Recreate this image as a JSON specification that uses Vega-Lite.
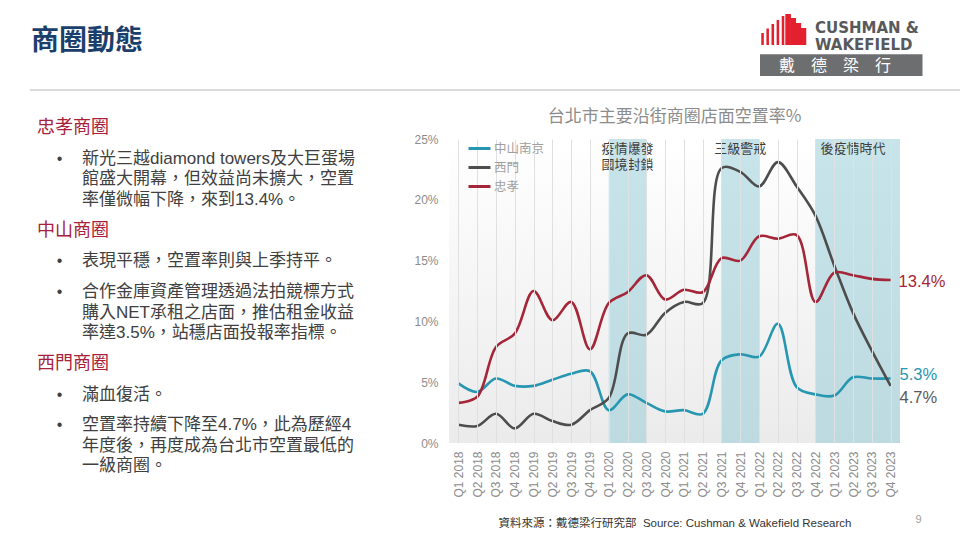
{
  "$schema": "https://vega.github.io/schema/vega-lite/v6.json",
  "padding": {"left": 28, "top": 10, "right": 0, "bottom": 0},
  "bounds": "flush",
  "spacing": 49,
  "config": {"font": "Noto Sans CJK TC", "view": {"stroke": null}},
  "datasets": {
    "vacancy": [
      {"quarter":"Q1 2018","series":"中山南京","value":0.049},{"quarter":"Q2 2018","series":"中山南京","value":0.042},{"quarter":"Q3 2018","series":"中山南京","value":0.053},{"quarter":"Q4 2018","series":"中山南京","value":0.047},
      {"quarter":"Q1 2019","series":"中山南京","value":0.047},{"quarter":"Q2 2019","series":"中山南京","value":0.052},{"quarter":"Q3 2019","series":"中山南京","value":0.057},{"quarter":"Q4 2019","series":"中山南京","value":0.059},
      {"quarter":"Q1 2020","series":"中山南京","value":0.027},{"quarter":"Q2 2020","series":"中山南京","value":0.040},{"quarter":"Q3 2020","series":"中山南京","value":0.033},{"quarter":"Q4 2020","series":"中山南京","value":0.026},
      {"quarter":"Q1 2021","series":"中山南京","value":0.027},{"quarter":"Q2 2021","series":"中山南京","value":0.024},{"quarter":"Q3 2021","series":"中山南京","value":0.068},{"quarter":"Q4 2021","series":"中山南京","value":0.073},
      {"quarter":"Q1 2022","series":"中山南京","value":0.071},{"quarter":"Q2 2022","series":"中山南京","value":0.098},{"quarter":"Q3 2022","series":"中山南京","value":0.046},{"quarter":"Q4 2022","series":"中山南京","value":0.040},
      {"quarter":"Q1 2023","series":"中山南京","value":0.039},{"quarter":"Q2 2023","series":"中山南京","value":0.054},{"quarter":"Q3 2023","series":"中山南京","value":0.053},{"quarter":"Q4 2023","series":"中山南京","value":0.053},
      {"quarter":"Q1 2018","series":"西門","value":0.015},{"quarter":"Q2 2018","series":"西門","value":0.014},{"quarter":"Q3 2018","series":"西門","value":0.024},{"quarter":"Q4 2018","series":"西門","value":0.012},
      {"quarter":"Q1 2019","series":"西門","value":0.024},{"quarter":"Q2 2019","series":"西門","value":0.018},{"quarter":"Q3 2019","series":"西門","value":0.015},{"quarter":"Q4 2019","series":"西門","value":0.027},
      {"quarter":"Q1 2020","series":"西門","value":0.037},{"quarter":"Q2 2020","series":"西門","value":0.090},{"quarter":"Q3 2020","series":"西門","value":0.089},{"quarter":"Q4 2020","series":"西門","value":0.107},
      {"quarter":"Q1 2021","series":"西門","value":0.116},{"quarter":"Q2 2021","series":"西門","value":0.115},{"quarter":"Q3 2021","series":"西門","value":0.226},{"quarter":"Q4 2021","series":"西門","value":0.223},
      {"quarter":"Q1 2022","series":"西門","value":0.211},{"quarter":"Q2 2022","series":"西門","value":0.231},{"quarter":"Q3 2022","series":"西門","value":0.211},{"quarter":"Q4 2022","series":"西門","value":0.187},
      {"quarter":"Q1 2023","series":"西門","value":0.146},{"quarter":"Q2 2023","series":"西門","value":0.107},{"quarter":"Q3 2023","series":"西門","value":0.076},{"quarter":"Q4 2023","series":"西門","value":0.047},
      {"quarter":"Q1 2018","series":"忠孝","value":0.033},{"quarter":"Q2 2018","series":"忠孝","value":0.038},{"quarter":"Q3 2018","series":"忠孝","value":0.079},{"quarter":"Q4 2018","series":"忠孝","value":0.090},
      {"quarter":"Q1 2019","series":"忠孝","value":0.125},{"quarter":"Q2 2019","series":"忠孝","value":0.101},{"quarter":"Q3 2019","series":"忠孝","value":0.116},{"quarter":"Q4 2019","series":"忠孝","value":0.077},
      {"quarter":"Q1 2020","series":"忠孝","value":0.115},{"quarter":"Q2 2020","series":"忠孝","value":0.124},{"quarter":"Q3 2020","series":"忠孝","value":0.138},{"quarter":"Q4 2020","series":"忠孝","value":0.118},
      {"quarter":"Q1 2021","series":"忠孝","value":0.126},{"quarter":"Q2 2021","series":"忠孝","value":0.124},{"quarter":"Q3 2021","series":"忠孝","value":0.152},{"quarter":"Q4 2021","series":"忠孝","value":0.150},
      {"quarter":"Q1 2022","series":"忠孝","value":0.170},{"quarter":"Q2 2022","series":"忠孝","value":0.168},{"quarter":"Q3 2022","series":"忠孝","value":0.171},{"quarter":"Q4 2022","series":"忠孝","value":0.116},
      {"quarter":"Q1 2023","series":"忠孝","value":0.140},{"quarter":"Q2 2023","series":"忠孝","value":0.138},{"quarter":"Q3 2023","series":"忠孝","value":0.135},{"quarter":"Q4 2023","series":"忠孝","value":0.134}
    ],
    "bands": [
      {"start":"Q1 2020","end":"Q3 2020","labelAt":"Q2 2020","label":"疫情爆發\n國境封鎖","ongoing":false},
      {"start":"Q3 2021","end":"Q1 2022","labelAt":"Q4 2021","label":"三級警戒","ongoing":false},
      {"start":"Q4 2022","end":"Q4 2023","labelAt":"Q2 2023","label":"後疫情時代","ongoing":true}
    ],
    "notes": [
      {"row":0,"kind":"head","text":"忠孝商圈"},
      {"row":3,"kind":"bullet","text":"新光三越diamond towers及大巨蛋場"},
      {"row":5,"kind":"cont","text":"館盛大開幕，但效益尚未擴大，空置"},
      {"row":7,"kind":"cont","text":"率僅微幅下降，來到13.4%。"},
      {"row":10,"kind":"head","text":"中山商圈"},
      {"row":13,"kind":"bullet","text":"表現平穩，空置率則與上季持平。"},
      {"row":16,"kind":"bullet","text":"合作金庫資產管理透過法拍競標方式"},
      {"row":18,"kind":"cont","text":"購入NET承租之店面，推估租金收益"},
      {"row":20,"kind":"cont","text":"率達3.5%，站穩店面投報率指標。"},
      {"row":23,"kind":"head","text":"西門商圈"},
      {"row":26,"kind":"bullet","text":"滿血復活。"},
      {"row":29,"kind":"bullet","text":"空置率持續下降至4.7%，此為歷經4"},
      {"row":31,"kind":"cont","text":"年度後，再度成為台北市空置最低的"},
      {"row":33,"kind":"cont","text":"一級商圈。"}
    ],
    "logo": [
      {"stripe":"1","top":23,"solid":false},{"stripe":"2","top":18.5,"solid":false},{"stripe":"3","top":14,"solid":false},
      {"stripe":"4","top":10,"solid":false},{"stripe":"5","top":6,"solid":false},{"stripe":"6","top":4,"solid":true},
      {"stripe":"7","top":8,"solid":true},{"stripe":"8","top":13,"solid":true},{"stripe":"9","top":18,"solid":true}
    ]
  },
  "vconcat": [
    {
      "width": 932,
      "height": 80,
      "resolve": {"scale": {"x": "independent"}},
      "layer": [
        {
          "data": {"values": [{}]},
          "layer": [
            {
              "mark": {"type": "rule", "color": "#dadada", "strokeWidth": 2},
              "encoding": {
                "x": {"datum": 2, "type": "quantitative", "scale": {"domain": [0, 932], "nice": false, "zero": false}, "axis": null},
                "x2": {"datum": 932},
                "y": {"datum": 80, "type": "quantitative", "scale": {"domain": [0, 80], "nice": false, "reverse": true}, "axis": null}
              }
            },
            {
              "mark": {"type": "text", "text": "商圈動態", "align": "left", "baseline": "middle", "fontSize": 28, "fontWeight": "bold", "color": "#1b3f6c"},
              "encoding": {"x": {"datum": 3, "type": "quantitative"}, "y": {"datum": 32, "type": "quantitative"}}
            },
            {
              "mark": {"type": "rect", "color": "#6d6e70"},
              "encoding": {"x": {"datum": 732, "type": "quantitative"}, "x2": {"datum": 894.5}, "y": {"datum": 44.3, "type": "quantitative"}, "y2": {"datum": 66}}
            },
            {
              "mark": {"type": "text", "text": "戴　德　梁　行", "align": "left", "baseline": "middle", "fontSize": 16, "color": "#ffffff"},
              "encoding": {"x": {"datum": 751, "type": "quantitative"}, "y": {"datum": 56, "type": "quantitative"}}
            },
            {
              "mark": {"type": "text", "text": "CUSHMAN &", "align": "left", "baseline": "middle", "fontSize": 15, "fontWeight": "bold", "font": "DejaVu Sans", "color": "#58595b"},
              "encoding": {"x": {"datum": 787, "type": "quantitative"}, "y": {"datum": 18, "type": "quantitative"}}
            },
            {
              "mark": {"type": "text", "text": "WAKEFIELD", "align": "left", "baseline": "middle", "fontSize": 15, "fontWeight": "bold", "font": "DejaVu Sans", "color": "#58595b"},
              "encoding": {"x": {"datum": 787, "type": "quantitative"}, "y": {"datum": 34.5, "type": "quantitative"}}
            }
          ]
        },
        {
          "data": {"name": "logo"},
          "layer": [
            {
              "transform": [{"filter": "!datum.solid"}],
              "mark": {"type": "bar", "color": "#e4202e", "width": {"band": 0.5}},
              "encoding": {
                "x": {"field": "stripe", "type": "ordinal", "scale": {"type": "band", "range": [732, 778], "paddingInner": 0, "paddingOuter": 0}, "axis": null},
                "y": {"field": "top", "type": "quantitative", "scale": {"domain": [0, 80], "nice": false, "reverse": true}, "axis": null},
                "y2": {"datum": 35}
              }
            },
            {
              "transform": [{"filter": "datum.solid"}],
              "mark": {"type": "bar", "color": "#e4202e", "width": {"band": 1.1}},
              "encoding": {
                "x": {"field": "stripe", "type": "ordinal"},
                "y": {"field": "top", "type": "quantitative"},
                "y2": {"datum": 35}
              }
            }
          ]
        }
      ]
    },
    {
      "bounds": "flush",
      "spacing": 0,
      "hconcat": [
        {
          "width": 421,
          "height": 304,
          "data": {"name": "notes"},
          "layer": [
            {
              "transform": [{"filter": "datum.kind === 'head'"}],
              "mark": {"type": "text", "align": "left", "baseline": "middle", "fontSize": 18, "color": "#a8203a"},
              "encoding": {
                "x": {"datum": "h", "type": "ordinal", "scale": {"type": "point", "domain": ["h", "b", "t"], "range": [9, 54], "padding": 0}, "axis": null},
                "y": {"field": "row", "type": "quantitative", "scale": {"domain": [0, 33], "nice": false, "zero": false, "range": [-11, 327.25]}, "axis": null},
                "text": {"field": "text"}
              }
            },
            {
              "transform": [{"filter": "datum.kind !== 'head'"}],
              "mark": {"type": "text", "align": "left", "baseline": "middle", "fontSize": 17, "color": "#404040", "font": "Liberation Sans, Noto Sans CJK TC"},
              "encoding": {
                "x": {"datum": "t", "type": "ordinal"},
                "y": {"field": "row", "type": "quantitative"},
                "text": {"field": "text"}
              }
            },
            {
              "transform": [{"filter": "datum.kind === 'bullet'"}],
              "mark": {"type": "text", "text": "•", "align": "center", "baseline": "middle", "fontSize": 16, "color": "#404040", "font": "Liberation Sans"},
              "encoding": {
                "x": {"datum": "b", "type": "ordinal"},
                "y": {"field": "row", "type": "quantitative"}
              }
            }
          ]
        },
        {
          "width": 451,
          "height": 304,
          "view": {"stroke": null, "fill": {"gradient": "linear", "x1": 0, "y1": 0, "x2": 0, "y2": 1, "stops": [{"offset": 0, "color": "#ffffff"}, {"offset": 1, "color": "#ebebeb"}]}},
          "title": {"text": "台北市主要沿街商圈店面空置率%", "fontSize": 17, "fontWeight": "normal", "color": "#8c8c8c", "anchor": "middle", "offset": 7},
          "layer": [
            {
              "data": {"name": "bands"},
              "transform": [{"filter": "!datum.ongoing"}],
              "mark": {"type": "rect", "color": "#8fcad6", "opacity": 0.5},
              "encoding": {
                "x": {"field": "start", "type": "ordinal",
                      "scale": {"type": "point", "padding": 0.5, "domain": ["Q1 2018","Q2 2018","Q3 2018","Q4 2018","Q1 2019","Q2 2019","Q3 2019","Q4 2019","Q1 2020","Q2 2020","Q3 2020","Q4 2020","Q1 2021","Q2 2021","Q3 2021","Q4 2021","Q1 2022","Q2 2022","Q3 2022","Q4 2022","Q1 2023","Q2 2023","Q3 2023","Q4 2023"]},
                      "axis": {"labelAngle": -90, "labelColor": "#8c8c8c", "labelFontSize": 12, "labelFont": "Liberation Sans", "labelPadding": 8, "ticks": false, "domain": false, "grid": true, "gridColor": "#e0e0e0", "gridWidth": 1,
                               "title": "資料來源：戴德梁行研究部\u00a0\u00a0Source: Cushman & Wakefield Research", "titleFontSize": 11.5, "titleFontWeight": "normal", "titleColor": "#333333", "titleFont": "Liberation Sans, Noto Sans CJK TC", "titlePadding": 20}},
                "x2": {"field": "end"},
                "y": {"datum": 0.25, "type": "quantitative",
                      "scale": {"domain": [0, 0.25], "nice": false},
                      "axis": {"values": [0, 0.05, 0.1, 0.15, 0.2, 0.25], "format": "%", "domain": false, "ticks": false, "grid": false, "labelColor": "#8c8c8c", "labelFontSize": 12, "labelFont": "Liberation Sans", "labelPadding": 11, "title": null}},
                "y2": {"datum": 0}
              }
            },
            {
              "data": {"name": "bands"},
              "transform": [{"filter": "datum.ongoing"}],
              "mark": {"type": "rect", "color": "#8fcad6", "opacity": 0.5},
              "encoding": {
                "x": {"field": "start", "type": "ordinal"},
                "x2": {"value": "width"},
                "y": {"datum": 0.25, "type": "quantitative"},
                "y2": {"datum": 0}
              }
            },
            {
              "data": {"name": "vacancy"},
              "mark": {"type": "line", "interpolate": "catmull-rom", "strokeWidth": 2.6},
              "encoding": {
                "x": {"field": "quarter", "type": "ordinal"},
                "y": {"field": "value", "type": "quantitative"},
                "color": {"field": "series", "type": "nominal",
                          "scale": {"domain": ["中山南京", "西門", "忠孝"], "range": ["#2796b1", "#4d4d4d", "#a52638"]},
                          "legend": {"orient": "none", "legendX": 439, "legendY": 126, "title": null, "symbolType": "stroke", "symbolStrokeWidth": 3, "symbolSize": 484, "labelFontSize": 12.5, "labelColor": "#a0a0a0", "rowPadding": -2, "padding": 0, "labelOffset": 2}}
              }
            },
            {
              "data": {"name": "bands"},
              "mark": {"type": "text", "align": "center", "baseline": "top", "dy": 4, "fontSize": 13, "color": "#404040", "lineBreak": "\n", "lineHeight": 16},
              "encoding": {
                "x": {"field": "labelAt", "type": "ordinal"},
                "y": {"datum": 0.25, "type": "quantitative"},
                "text": {"field": "label"}
              }
            },
            {
              "data": {"name": "vacancy"},
              "transform": [{"filter": "datum.quarter === 'Q4 2023' && datum.series === '忠孝'"}],
              "mark": {"type": "text", "align": "left", "baseline": "middle", "dx": 8, "dy": 2, "fontSize": 16.5, "font": "Liberation Sans", "color": "#a52638"},
              "encoding": {"x": {"field": "quarter", "type": "ordinal"}, "y": {"field": "value", "type": "quantitative"}, "text": {"field": "value", "format": ".1%"}}
            },
            {
              "data": {"name": "vacancy"},
              "transform": [{"filter": "datum.quarter === 'Q4 2023' && datum.series === '中山南京'"}],
              "mark": {"type": "text", "align": "left", "baseline": "middle", "dx": 9, "dy": -4, "fontSize": 16.5, "font": "Liberation Sans", "color": "#2796b1"},
              "encoding": {"x": {"field": "quarter", "type": "ordinal"}, "y": {"field": "value", "type": "quantitative"}, "text": {"field": "value", "format": ".1%"}}
            },
            {
              "data": {"name": "vacancy"},
              "transform": [{"filter": "datum.quarter === 'Q4 2023' && datum.series === '西門'"}],
              "mark": {"type": "text", "align": "left", "baseline": "middle", "dx": 9, "dy": 12, "fontSize": 16.5, "font": "Liberation Sans", "color": "#595959"},
              "encoding": {"x": {"field": "quarter", "type": "ordinal"}, "y": {"field": "value", "type": "quantitative"}, "text": {"field": "value", "format": ".1%"}}
            },
            {
              "data": {"values": [{"page": "9"}]},
              "mark": {"type": "text", "align": "center", "baseline": "middle", "dx": 28, "dy": 77, "fontSize": 11, "font": "Liberation Sans", "color": "#a0a0a0"},
              "encoding": {"x": {"datum": "Q4 2023", "type": "ordinal"}, "y": {"datum": 0, "type": "quantitative"}, "text": {"field": "page"}}
            }
          ]
        }
      ]
    }
  ]
}
